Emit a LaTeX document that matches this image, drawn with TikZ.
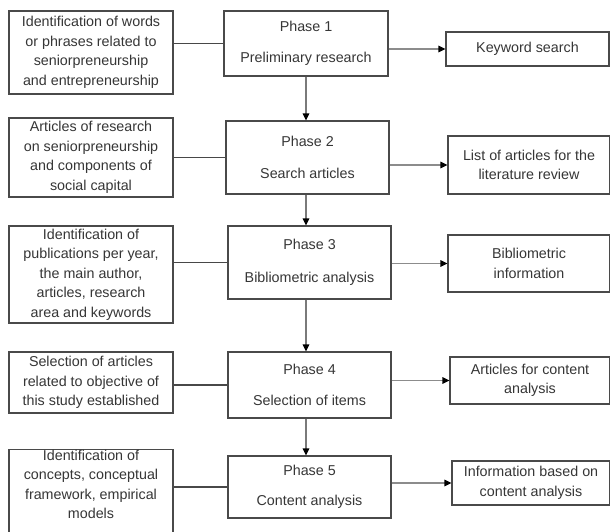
\documentclass[tikz,border=0pt]{standalone}
\usepackage{fontspec}
\setmainfont{Liberation Sans}
\usetikzlibrary{arrows.meta}
\definecolor{txt}{HTML}{363636}
\definecolor{brd}{HTML}{4A4A4A}
\definecolor{lcon}{HTML}{484848}
\definecolor{rcon}{HTML}{8C8C8C}
\definecolor{vcon}{HTML}{7A7A7A}
\tikzset{
  box/.style={draw=brd, line width=1.1pt, fill=white, text=txt, align=center,
    inner sep=0pt, font=\fontsize{14.3}{19.5}\selectfont},
  lcn/.style={draw=lcon, line width=1.1pt},
  rcn/.style={draw=rcon, line width=1.1pt, -{Triangle[length=7pt,width=6.5pt,fill=black,color=black]}},
  vcn/.style={draw=vcon, line width=1.1pt, -{Triangle[length=7pt,width=6.5pt,fill=black,color=black]}},
}
\begin{document}
\begin{tikzpicture}[x=1pt,y=-1pt]
\useasboundingbox (0,0) rectangle (610,531);
\begin{scope}
\clip (0,0) rectangle (610,531);
% left boxes
\node[box, minimum width=164pt, minimum height=83pt] (L1) at (91,52.5)
  {Identification of words\\or phrases related to\\seniorpreneurship\\and entrepreneurship};
\node[box, minimum width=164pt, minimum height=79pt] (L2) at (91,157.5)
  {Articles of research\\on seniorpreneurship\\and components of\\social capital};
\node[box, minimum width=164pt, minimum height=97pt] (L3) at (91,274.5)
  {Identification of\\publications per year,\\the main author,\\articles, research\\area and keywords};
\node[box, minimum width=164pt, minimum height=61pt] (L4) at (91,382.5)
  {Selection of articles\\related to objective of\\this study established};
\node[box, minimum width=164pt, minimum height=82pt] (L5) at (91,493)
  {Identification of\\concepts, conceptual\\framework, empirical\\models\\[-2pt]};
% phase boxes
\node[box, minimum width=164pt, minimum height=65pt] (P1) at (306,43.5)
  {Phase 1\\[11pt]Preliminary research};
\node[box, minimum width=163pt, minimum height=73pt] (P2) at (307.5,157.5)
  {Phase 2\\[13pt]Search articles};
\node[box, minimum width=163pt, minimum height=73pt] (P3) at (309.5,262.5)
  {Phase 3\\[13pt]Bibliometric analysis};
\node[box, minimum width=163pt, minimum height=66pt] (P4) at (309.5,385)
  {Phase 4\\[12pt]Selection of items};
\node[box, minimum width=163pt, minimum height=62pt] (P5) at (309.5,487)
  {Phase 5\\[11pt]Content analysis};
% right boxes
\node[box, minimum width=163pt, minimum height=34pt] (R1) at (527.5,49)
  {Keyword search};
\node[box, minimum width=162pt, minimum height=58pt] (R2) at (529,165)
  {List of articles for the\\literature review};
\node[box, minimum width=162pt, minimum height=57pt] (R3) at (529,263.5)
  {Bibliometric\\information};
\node[box, minimum width=160pt, minimum height=47pt] (R4) at (530,380.5)
  {Articles for content\\analysis};
\node[box, minimum width=158pt, minimum height=44pt] (R5) at (531,483)
  {Information based on\\content analysis};
% left connectors
\draw[lcn] (L1.east |- P1.west) -- (P1.west);
\draw[lcn] (L2.east |- P2.west) -- (P2.west);
\draw[lcn] (L3.east |- P3.west) -- (P3.west);
\draw[lcn] (L4.east |- P4.west) -- (P4.west);
\draw[lcn] (L5.east |- P5.west) -- (P5.west);
% right connectors
\draw[rcn] (P1.east |- R1.west) -- (R1.west);
\draw[rcn] (P2.east |- R2.west) -- (R2.west);
\draw[rcn] (P3.east |- R3.west) -- (R3.west);
\draw[rcn] (P4.east |- R4.west) -- (R4.west);
\draw[rcn] (P5.east |- R5.west) -- (R5.west);
% vertical connectors
\draw[vcn] (P1.south) -- (P1.south |- P2.north);
\draw[vcn] (P2.south -| P1.south) -- (P1.south |- P3.north);
\draw[vcn] (P3.south -| P1.south) -- (P1.south |- P4.north);
\draw[vcn] (P4.south -| P1.south) -- (P1.south |- P5.north);
\end{scope}
\end{tikzpicture}
\end{document}
